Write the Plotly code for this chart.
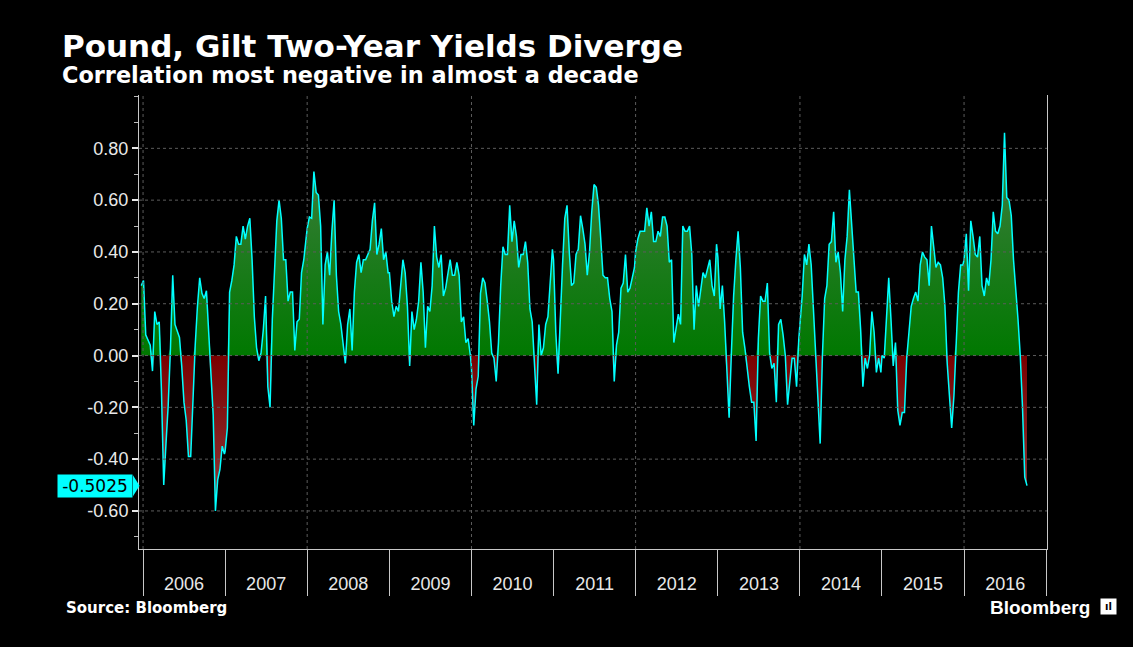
import numpy as np
import pandas as pd
import plotly.graph_objects as go

# ---- data: 10-day samples of the rolling correlation, one list per year ----
V2006 = [0.27, 0.29, 0.08, 0.06, 0.04, -0.06, 0.17, 0.12, 0.13, -0.14, -0.50, -0.34, -0.19, 0.03,
         0.31, 0.12, 0.09, 0.07, -0.04, -0.18, -0.25, -0.39, -0.39, -0.14, 0.04, 0.19, 0.30, 0.24,
         0.22, 0.25, 0.09, -0.09, -0.23, -0.60, -0.48, -0.44, -0.35, -0.38]
V2007 = [-0.37, -0.28, 0.245, 0.29, 0.35, 0.46, 0.43, 0.43, 0.50, 0.45, 0.50, 0.53, 0.37, 0.15,
         0.03, -0.02, 0.01, 0.10, 0.23, -0.12, -0.20, 0.14, 0.32, 0.52, 0.60, 0.53, 0.37, 0.37,
         0.21, 0.245, 0.245, 0.02, 0.13, 0.14, 0.32, 0.37, 0.45]
V2008 = [0.49, 0.535, 0.53, 0.71, 0.63, 0.62, 0.50, 0.12, 0.35, 0.40, 0.31, 0.48, 0.60, 0.31,
         0.17, 0.12, 0.04, -0.03, 0.12, 0.18, 0.02, 0.245, 0.36, 0.39, 0.32, 0.37, 0.37, 0.39,
         0.41, 0.52, 0.59, 0.39, 0.43, 0.49, 0.37, 0.40, 0.32]
V2009 = [0.32, 0.21, 0.15, 0.19, 0.17, 0.28, 0.37, 0.32, 0.19, -0.04, 0.17, 0.10, 0.14, 0.21,
         0.36, 0.245, 0.03, 0.19, 0.17, 0.27, 0.50, 0.38, 0.34, 0.39, 0.23, 0.26, 0.31, 0.37,
         0.31, 0.31, 0.36, 0.31, 0.13, 0.15, 0.05, 0.065, 0.0]
V2010 = [-0.05, -0.27, -0.13, -0.08, 0.24, 0.30, 0.28, 0.21, 0.13, 0.01, -0.01, -0.10, 0.05, 0.27,
         0.42, 0.39, 0.39, 0.58, 0.44, 0.52, 0.46, 0.34, 0.39, 0.39, 0.44, 0.36, 0.18, 0.13,
         -0.01, -0.19, 0.12, 0.0, 0.03, 0.12, 0.15, 0.27, 0.41]
V2011 = [0.37, 0.09, -0.07, 0.17, 0.35, 0.53, 0.58, 0.40, 0.27, 0.28, 0.39, 0.41, 0.54, 0.49,
         0.43, 0.31, 0.40, 0.555, 0.66, 0.65, 0.58, 0.45, 0.31, 0.30, 0.30, 0.22, 0.17, -0.10,
         0.04, 0.09, 0.26, 0.28, 0.39, 0.245, 0.26, 0.30, 0.34]
V2012 = [0.40, 0.45, 0.48, 0.48, 0.48, 0.57, 0.50, 0.555, 0.44, 0.44, 0.48, 0.46, 0.535, 0.535,
         0.50, 0.36, 0.37, 0.05, 0.10, 0.16, 0.12, 0.50, 0.48, 0.48, 0.50, 0.39, 0.10, 0.27,
         0.19, 0.26, 0.32, 0.30, 0.34, 0.37, 0.27, 0.23, 0.43]
V2013 = [0.38, 0.18, 0.27, 0.13, -0.065, -0.24, 0.01, 0.23, 0.37, 0.48, 0.34, 0.09, 0.03, -0.05,
         -0.12, -0.18, -0.18, -0.33, 0.065, 0.23, 0.21, 0.21, 0.28, 0.01, -0.05, -0.03, -0.18,
         0.12, 0.14, 0.08, 0.0, -0.19, -0.09, -0.01, -0.01, -0.12, 0.065]
V2014 = [0.12, 0.23, 0.39, 0.35, 0.43, 0.35, 0.18, -0.01, -0.18, -0.34, 0.0, 0.22, 0.27, 0.43,
         0.44, 0.555, 0.36, 0.40, 0.32, 0.17, 0.37, 0.46, 0.64, 0.52, 0.36, 0.245, 0.245, 0.10,
         -0.12, -0.01, -0.05, 0.0, 0.17, 0.09, -0.065, -0.01, -0.065]
V2015 = [0.0, -0.01, 0.15, 0.30, 0.14, -0.04, 0.05, -0.21, -0.27, -0.22, -0.22, -0.01, 0.09, 0.19,
         0.22, 0.245, 0.21, 0.35, 0.40, 0.38, 0.37, 0.27, 0.50, 0.41, 0.34, 0.36, 0.35, 0.30,
         0.19, -0.03, -0.15, -0.28, -0.155, 0.05, 0.245, 0.35, 0.35]
V2016 = [0.37, 0.47, 0.25, 0.52, 0.46, 0.39, 0.38, 0.46, 0.27, 0.23, 0.30, 0.27, 0.37, 0.555,
         0.48, 0.47, 0.50, 0.58, 0.86, 0.61, 0.60, 0.54, 0.37, 0.27, 0.14, 0.0, -0.20, -0.47,
         -0.5025]

YEAR_SERIES = [("2005-12-24", V2006), ("2007-01-01", V2007), ("2008-01-01", V2008),
               ("2009-01-01", V2009), ("2010-01-01", V2010), ("2011-01-01", V2011),
               ("2012-01-01", V2012), ("2013-01-01", V2013), ("2014-01-01", V2014),
               ("2015-01-01", V2015), ("2016-01-01", V2016)]
SAMPLE_STEP = "10D"

Y_TICKS = [-0.6, -0.4, -0.2, 0.0, 0.2, 0.4, 0.6, 0.8]
Y_TICK_TEXT = [f"{v:.2f}" for v in Y_TICKS]
GRID_YEARS = [2006, 2008, 2010, 2012, 2014, 2016]
X_RANGE = ["2005-12-14", "2017-01-04"]
Y_RANGE = [-0.747, 1.006]

TITLE = "Pound, Gilt Two-Year Yields Diverge"
SUBTITLE = "Correlation most negative in almost a decade"
SOURCE = "Source: Bloomberg"
BRAND = "Bloomberg"

# ---- build series ----
dates = []
vals = []
for start, v in YEAR_SERIES:
    dates.extend(pd.date_range(start, periods=len(v), freq=SAMPLE_STEP))
    vals.extend(v)
values = np.array(vals)
pos = np.maximum(values, 0)
neg = np.minimum(values, 0)
last_value = values[-1]

# ---- layout geometry (pixels) ----
W, H = 1133, 647
L, R, T, B = 139, 86, 95, 98
PW, PH = W - L - R, H - T - B


def px(x):
    return (x - L) / PW


def py(y):
    return (H - B - y) / PH


fig = go.Figure()
fig.add_trace(go.Scatter(
    x=dates, y=pos, mode="lines", line=dict(width=0), fill="tozeroy",
    fillgradient=dict(type="vertical", start=0, stop=0.75,
                      colorscale=[[0, "#007800"], [1, "#3b7d3b"]]),
    hoverinfo="skip"))
fig.add_trace(go.Scatter(
    x=dates, y=neg, mode="lines", line=dict(width=0), fill="tozeroy",
    fillgradient=dict(type="vertical", start=-0.6, stop=0,
                      colorscale=[[0, "#8e3a3a"], [1, "#7a0000"]]),
    hoverinfo="skip"))
fig.add_trace(go.Scatter(
    x=dates, y=values, mode="lines", line=dict(color="#00ffff", width=1.5),
    hoverinfo="skip"))

GRID = dict(color="#5c5c5c", width=1, dash="dot")
shapes = []
for v in Y_TICKS:
    shapes.append(dict(type="line", xref="paper", yref="y", x0=0, x1=1, y0=v, y1=v,
                       line=GRID, layer="above"))
for yr in GRID_YEARS:
    d = f"{yr}-01-01"
    shapes.append(dict(type="line", xref="x", yref="paper", x0=d, x1=d, y0=0, y1=1,
                       line=GRID, layer="above"))
# pointer of the last-value badge
h = 10.5 / PH * (Y_RANGE[1] - Y_RANGE[0])
xa, xb = px(133), px(139.5)
shapes.append(dict(type="path", xref="paper", yref="y",
                   path=f"M {xa},{last_value + h} L {xb},{last_value} L {xa},{last_value - h} Z",
                   fillcolor="#00ffff", line=dict(width=0), layer="above"))

annotations = [
    dict(text=f"<b>{TITLE}</b>", xref="paper", yref="paper", x=px(60), y=py(46),
         xanchor="left", yanchor="middle", showarrow=False,
         font=dict(family="DejaVu Sans", size=31, color="#ffffff")),
    dict(text=f"<b>{SUBTITLE}</b>", xref="paper", yref="paper", x=px(60), y=py(75),
         xanchor="left", yanchor="middle", showarrow=False,
         font=dict(family="DejaVu Sans", size=22.4, color="#ffffff")),
    dict(text=f"<b>{SOURCE}</b>", xref="paper", yref="paper", x=px(64), y=py(608),
         xanchor="left", yanchor="middle", showarrow=False,
         font=dict(family="DejaVu Sans", size=15, color="#ffffff")),
    dict(text=f"<b>{BRAND}</b>", xref="paper", yref="paper", x=px(1092), y=py(607),
         xanchor="right", yanchor="middle", showarrow=False,
         font=dict(family="Liberation Sans", size=19, color="#ffffff")),
    dict(text="<b>ıl</b>", xref="paper", yref="paper", x=px(1108), y=py(606),
         xanchor="center", yanchor="middle", showarrow=False, bgcolor="#ffffff",
         width=13, height=13, borderpad=1,
         font=dict(family="DejaVu Sans", size=10, color="#000000")),
    dict(text=f"{last_value:.4f}", xref="paper", yref="y", x=xa, y=last_value,
         xanchor="right", yanchor="middle", showarrow=False, bgcolor="#00ffff",
         width=70, height=18, borderpad=2, align="center",
         font=dict(family="DejaVu Sans", size=17, color="#000000")),
]

fig.update_layout(
    width=W, height=H,
    margin=dict(l=L, r=R, t=T, b=B, pad=0),
    paper_bgcolor="#000000", plot_bgcolor="#000000",
    showlegend=False, hovermode=False,
    shapes=shapes, annotations=annotations,
    xaxis=dict(type="date", range=X_RANGE, tickmode="linear", tick0="2006-01-01",
               dtick="M12", tickformat="%Y", ticklabelmode="period",
               ticks="outside", ticklen=46, tickwidth=1, tickcolor="#c8c8c8",
               ticklabelstandoff=-28,
               showgrid=False, zeroline=False, showline=True, linecolor="#c8c8c8",
               linewidth=1, tickfont=dict(family="Liberation Sans", size=18, color="#e8e8e8")),
    yaxis=dict(range=Y_RANGE, tickmode="array", tickvals=Y_TICKS, ticktext=Y_TICK_TEXT,
               ticks="outside", ticklen=6, tickwidth=2, tickcolor="#e8e8e8",
               minor=dict(ticks="outside", ticklen=4, tickwidth=1, tickcolor="#bbbbbb",
                          dtick=0.1, tick0=0),
               showgrid=False, zeroline=False, showline=True, mirror=True,
               linecolor="#c8c8c8", linewidth=1,
               tickfont=dict(family="Liberation Sans", size=18, color="#e8e8e8")),
)

fig.write_html("out.html", config={"displayModeBar": False},
               post_script="document.body.style.margin='0';document.body.style.background='#000';")
